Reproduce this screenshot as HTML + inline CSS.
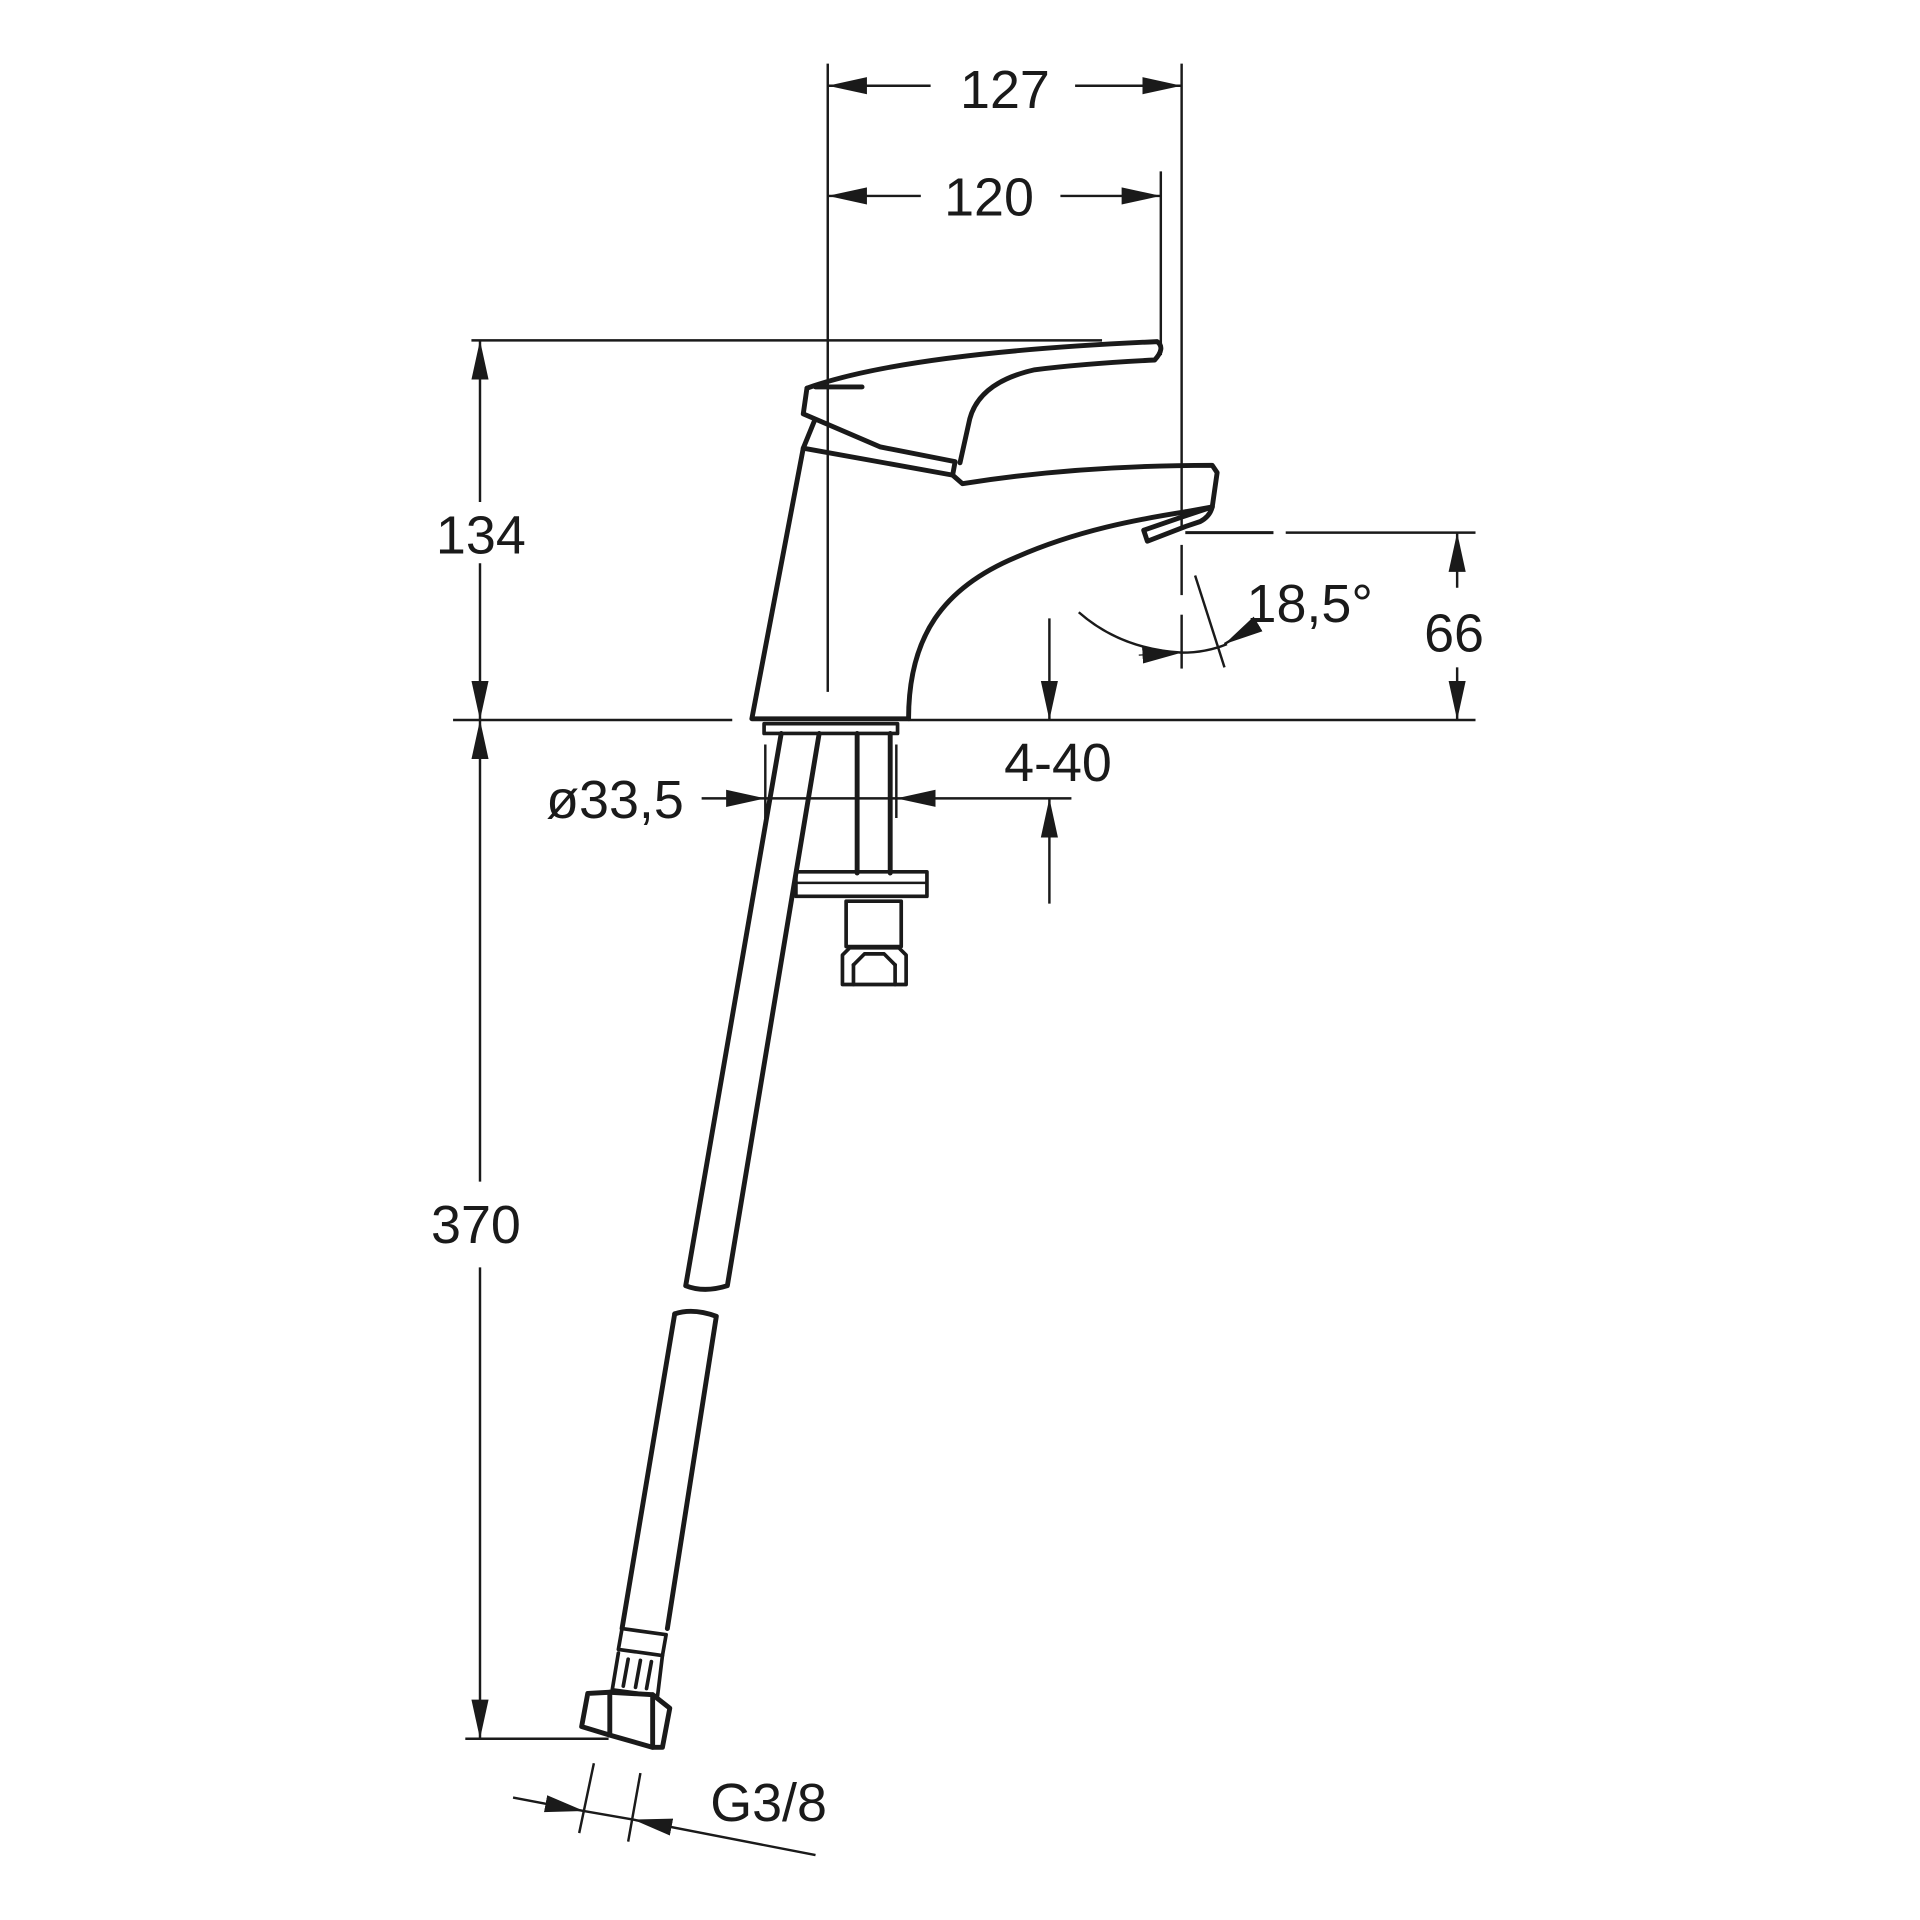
<!DOCTYPE html>
<html><head><meta charset="utf-8"><style>
html,body{margin:0;padding:0;background:#fff;}
svg{display:block;}
text{font-family:"Liberation Sans",sans-serif;font-size:44px;fill:#1a1a1a;}
</style></head><body>
<svg width="1920" height="1920" viewBox="0 0 1568 1568" xmlns="http://www.w3.org/2000/svg">
<defs>
<marker id="a" markerUnits="userSpaceOnUse" markerWidth="34" markerHeight="16" refX="32" refY="8" orient="auto">
<path d="M0,1 L32,8 L0,15 Z" fill="#1a1a1a"/></marker>
</defs>
<g stroke="#1a1a1a" stroke-width="2" fill="none">
<line x1="676" y1="52" x2="676" y2="565"/>
<line x1="965" y1="52" x2="965" y2="430"/>
<line x1="965" y1="445" x2="965" y2="486"/>
<line x1="965" y1="502" x2="965" y2="546"/>
<line x1="948" y1="140" x2="948" y2="290"/>
<line x1="760" y1="70" x2="676" y2="70" marker-end="url(#a)"/>
<line x1="878" y1="70" x2="965" y2="70" marker-end="url(#a)"/>
<line x1="752" y1="160" x2="676" y2="160" marker-end="url(#a)"/>
<line x1="866" y1="160" x2="948" y2="160" marker-end="url(#a)"/>
<line x1="385" y1="278" x2="900" y2="278"/>
<line x1="392" y1="410" x2="392" y2="278" marker-end="url(#a)"/>
<line x1="392" y1="460" x2="392" y2="588" marker-end="url(#a)"/>
<line x1="370" y1="588" x2="598" y2="588"/>
<line x1="742" y1="588" x2="1205" y2="588"/>
<line x1="392" y1="965" x2="392" y2="588" marker-end="url(#a)"/>
<line x1="392" y1="1035" x2="392" y2="1420" marker-end="url(#a)"/>
<line x1="380" y1="1420" x2="497" y2="1420"/>
<line x1="968" y1="435" x2="1040" y2="435" stroke-width="2.5"/>
<line x1="1050" y1="435" x2="1205" y2="435"/>
<line x1="1190" y1="480" x2="1190" y2="435" marker-end="url(#a)"/>
<line x1="1190" y1="545" x2="1190" y2="588" marker-end="url(#a)"/>
<line x1="857" y1="505" x2="857" y2="588" marker-end="url(#a)"/>
<line x1="857" y1="738" x2="857" y2="652" marker-end="url(#a)"/>
<line x1="625" y1="608" x2="625" y2="668"/>
<line x1="732" y1="608" x2="732" y2="668"/>
<line x1="573" y1="652" x2="625" y2="652" marker-end="url(#a)"/>
<line x1="625" y1="652" x2="732" y2="652"/>
<line x1="875" y1="652" x2="732" y2="652" marker-end="url(#a)"/>
<path d="M881,500 Q915,530 965,533" />
<line x1="930" y1="535" x2="965" y2="533" marker-end="url(#a)" stroke-width="1"/>
<path d="M965,533 Q985,533 1002,526"/>
<line x1="1025" y1="511" x2="1000" y2="526" marker-end="url(#a)"/>
<line x1="976" y1="470" x2="1000" y2="545"/>
<line x1="485" y1="1440" x2="473" y2="1497"/>
<line x1="523" y1="1448" x2="513" y2="1504"/>
<line x1="419" y1="1468" x2="477" y2="1479" marker-end="url(#a)"/>
<line x1="477" y1="1479" x2="517" y2="1486"/>
<line x1="666" y1="1515" x2="517" y2="1486" marker-end="url(#a)"/>
</g>
<g stroke="#1a1a1a" stroke-width="4" fill="none" stroke-linejoin="round" stroke-linecap="round">
<path d="M659,317 Q740,288 945,279 Q952,284 943,294 Q884,297 845,302 Q800,312 792,342 L784,378"/>
<path d="M659,317 L656,338 L719,365 L780,377 L778,388 L786,395 Q880,380 990,380 L994,386 L990,414"/>
<line x1="666" y1="316" x2="704" y2="316"/>
<path d="M656,366 L778,388"/>
<path d="M665,344 L656,366 L614,587 L742,587 C742,520 770,480 830,455 C880,433 930,424 968,418"/>
<path d="M937,442 L934,433 L966,422 L990,414 Q988,422 980,426 L968,430 Z"/>
<path d="M968,418 L990,414"/>
<path d="M624,591 L733,591 L733,599 L624,599 Z" stroke-width="3"/>
<path d="M638,599 L560,1050 Q575,1056 594,1050 L669,599"/>
<path d="M551,1073 Q566,1068 585,1075 L545,1330"/>
<line x1="551" y1="1073" x2="508" y2="1330"/>
<path d="M508,1330 L544,1335 L541,1352 L505,1347 Z" stroke-width="3"/>
<path d="M505,1350 L500,1380 L537,1385 L541,1352" stroke-width="3"/>
<line x1="513" y1="1355" x2="509" y2="1377" stroke-width="3"/>
<line x1="523" y1="1356" x2="519" y2="1378" stroke-width="3"/>
<line x1="532" y1="1357" x2="528" y2="1379" stroke-width="3"/>
<path d="M480,1383 L498,1382 L533,1384 L547,1395 L541,1427 L533,1427 L498,1417 L475,1410 Z"/>
<line x1="498" y1="1382" x2="498" y2="1417"/>
<line x1="533" y1="1384" x2="533" y2="1427"/>
<line x1="700" y1="599" x2="700" y2="713"/>
<line x1="727" y1="599" x2="727" y2="713"/>
<path d="M650,712 L757,712 L757,732 L650,732 Z" stroke-width="3"/>
<line x1="650" y1="721" x2="757" y2="721" stroke-width="2"/>
<path d="M691,736 L736,736 L736,773 L691,773 Z" stroke-width="3"/>
<path d="M688,804 L688,780 L694,774 L734,774 L740,780 L740,804 Z" stroke-width="3"/>
<path d="M697,788 L706,779 L722,779 L731,788" stroke-width="3"/>
<line x1="697" y1="788" x2="697" y2="804" stroke-width="3"/>
<line x1="731" y1="788" x2="731" y2="804" stroke-width="3"/>
</g>
<text x="784" y="88">127</text>
<text x="771" y="176">120</text>
<text x="356" y="452">134</text>
<text x="1163" y="532">66</text>
<text x="1018" y="508">18,5°</text>
<text x="820" y="638">4-40</text>
<text x="446" y="668">ø33,5</text>
<text x="352" y="1015">370</text>
<text x="580" y="1487">G3/8</text>
</svg>
</body></html>
